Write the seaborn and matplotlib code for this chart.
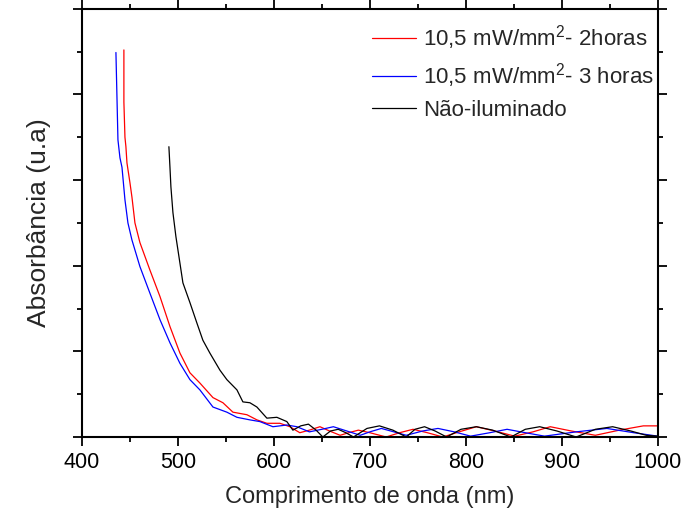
import matplotlib
matplotlib.use("Agg")
import matplotlib.pyplot as plt
import pandas as pd
import seaborn as sns

# curvas (comprimento de onda em nm, absorbância em u.a.)
nm_2h = [443.7, 443.7, 444.8, 445.8, 446.9, 450.0, 452.1, 455.2, 460.4,
         470.8, 481.3, 491.7, 502.1, 512.5, 522.9, 536.5, 546.9, 557.3, 571.9,
         582.3, 592.7, 606.3, 616.7, 627, 637, 648, 658, 669, 678, 688, 700,
         717, 731, 745, 760, 776, 793, 811, 830, 851, 870, 888, 910, 935, 960,
         985, 1000]
abs_2h = [4.52, 3.91, 3.50, 3.39, 3.20, 2.97, 2.80, 2.50, 2.27,
          1.95, 1.64, 1.29, 0.98, 0.75, 0.63, 0.46, 0.40, 0.29, 0.26,
          0.20, 0.16, 0.16, 0.12, 0.05, 0.08, 0.12, 0.07, 0.02, 0.05, 0.08, 0.05,
          0.00, 0.05, 0.09, 0.05, 0.00, 0.06, 0.12, 0.07, 0.01, 0.06, 0.12, 0.07,
          0.02, 0.08, 0.13, 0.13]

nm_3h = [435.4, 437.5, 439.6, 441.7, 444.8, 447.9, 452.1, 460.4, 470.8, 481.3,
         491.7, 502.1, 512.5, 522.9, 536.5, 551.0, 561.5, 575.0, 585.4, 599.0,
         613.5, 624, 637, 650, 662, 676, 690, 700, 712, 725, 738, 755, 771, 788,
         805, 825, 843, 862, 882, 915, 947, 975, 1000]
abs_3h = [4.49, 3.47, 3.26, 3.15, 2.77, 2.50, 2.30, 1.99, 1.68, 1.37,
          1.10, 0.86, 0.67, 0.55, 0.35, 0.29, 0.23, 0.20, 0.18, 0.12,
          0.14, 0.12, 0.06, 0.09, 0.12, 0.07, 0.02, 0.06, 0.10, 0.06, 0.02, 0.07,
          0.10, 0.06, 0.01, 0.05, 0.09, 0.05, 0.01, 0.06, 0.10, 0.05, 0.01]

nm_escuro = [490.6, 491.7, 492.7, 494.8, 497.9, 502.1, 505.2, 512.5, 519.8, 526.0,
             533.3, 543.8, 551.0, 561.5, 567.7, 575.0, 582.3, 592.7, 603.1, 613.5,
             619.8, 628, 636, 644, 651, 659, 667, 675, 683, 697, 710, 724, 738,
             747, 757, 768, 780, 795, 811, 828, 847, 862, 877, 895, 915, 935, 953,
             972, 988, 1000]
abs_escuro = [3.39, 3.15, 2.92, 2.62, 2.34, 2.03, 1.80, 1.57, 1.33, 1.13,
              0.98, 0.78, 0.67, 0.55, 0.41, 0.40, 0.35, 0.22, 0.23, 0.18,
              0.08, 0.13, 0.15, 0.08, 0.0, 0.07, 0.09, 0.05, 0.0, 0.10, 0.13, 0.08,
              0.0, 0.09, 0.12, 0.07, 0.0, 0.09, 0.12, 0.08, 0.0, 0.09, 0.12, 0.07,
              0.0, 0.09, 0.12, 0.07, 0.02, 0.01]

rotulos = ["10,5 mW/mm$^{2}$- 2horas", "10,5 mW/mm$^{2}$- 3 horas", "Não-iluminado"]
cores = ["#ff0000", "#0000ff", "#000000"]

df = pd.concat([
    pd.DataFrame({"nm": nm_2h, "abs": abs_2h, "amostra": rotulos[0]}),
    pd.DataFrame({"nm": nm_3h, "abs": abs_3h, "amostra": rotulos[1]}),
    pd.DataFrame({"nm": nm_escuro, "abs": abs_escuro, "amostra": rotulos[2]}),
], ignore_index=True)

sns.set_style("ticks")
plt.rcParams["font.family"] = ["Liberation Sans", "DejaVu Sans"]
plt.rcParams["mathtext.fontset"] = "custom"
plt.rcParams["mathtext.rm"] = "Liberation Sans"

fig = plt.figure(figsize=(6.83, 5.19), dpi=100)
ax = fig.add_axes([0.120, 0.158, 0.843, 0.825])

sns.lineplot(data=df, x="nm", y="abs", hue="amostra", palette=cores,
             sort=False, estimator=None, linewidth=0.9, ax=ax)

ax.set_xlim(400, 1000)
ax.set_ylim(0, 5)
ax.set_xticks(range(400, 1001, 100))
ax.set_xticks(range(450, 1000, 100), minor=True)
ax.set_yticks(range(0, 6))
ax.set_yticks([0.5, 1.5, 2.5, 3.5, 4.5], minor=True)
ax.set_yticklabels([])
ax.tick_params(which="both", direction="out", top=True, right=True,
               width=1.3, labelsize=15.5, colors="black")
ax.tick_params(which="major", length=6.5, pad=4)
ax.tick_params(which="minor", length=3.6)
for s in ax.spines.values():
    s.set_linewidth(1.5)
    s.set_color("black")

ax.set_xlabel("Comprimento de onda (nm)", fontsize=17, labelpad=10)
ax.set_ylabel("Absorbância (u.a)", fontsize=19, labelpad=12)

leg = ax.legend(loc="upper right", frameon=False, fontsize=16, handlelength=2.0,
                handletextpad=0.3, borderaxespad=0.0, borderpad=0.3,
                labelspacing=0.42, bbox_to_anchor=(1.005, 0.982))
for h in leg.get_lines():
    h.set_linewidth(0.9)

fig.savefig("out.png", dpi=100)
